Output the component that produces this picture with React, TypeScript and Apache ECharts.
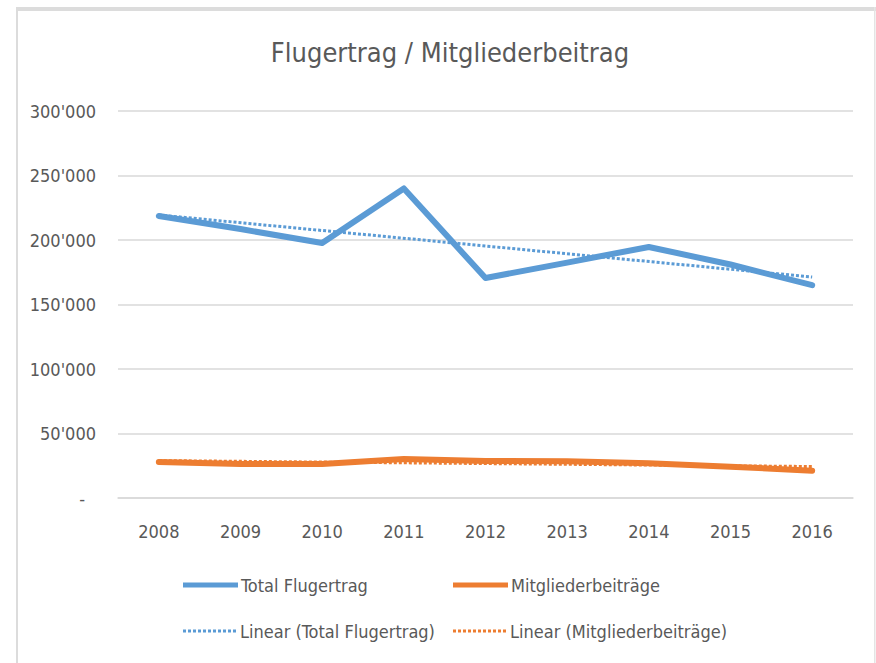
import React, { useEffect, useRef } from "react";
import * as echarts from "echarts";

const years = ["2008", "2009", "2010", "2011", "2012", "2013", "2014", "2015", "2016"];
const totalFlugertrag = [218600, 208500, 197700, 240000, 170500, 182500, 194600, 181000, 165000];
const mitgliederbeitraege = [27900, 26400, 26400, 30200, 28700, 28400, 26900, 24300, 21200];
// trend line endpoints (2008 and 2016)
const trendTotal = [219400, 171300];
const trendMitglieder = [29000, 24400];

const FONT = "'DejaVu Sans Condensed', sans-serif";
const GRAY = "#595959";
const BLUE = "#5B9BD5";
const ORANGE = "#ED7D31";

function dotted(n: number) {
  let d = "path://";
  for (let i = 0; i < n; i++) d += `M${i * 5},0h3v3h-3z`;
  return d;
}

export default function App() {
  const ref = useRef<HTMLDivElement>(null);
  useEffect(() => {
    document.body.style.margin = "0";
    const chart = echarts.init(ref.current!, null, { renderer: "svg" });
    const legendBase = {
      orient: "horizontal",
      itemWidth: 55,
      itemGap: 5,
      padding: 0,
      textStyle: { fontFamily: FONT, fontSize: 18, color: GRAY, padding: [0, 0, 0, -2] },
      selectedMode: false,
    };
    chart.setOption({
      animation: false,
      backgroundColor: "#ffffff",
      textStyle: { fontFamily: FONT },
      title: {
        text: "Flugertrag / Mitgliederbeitrag",
        left: 445,
        top: 34,
        textAlign: "center",
        textStyle: { fontFamily: FONT, fontSize: 27, fontWeight: "normal", color: GRAY },
      },
      graphic: [
        { type: "rect", shape: { x: 16, y: 7, width: 860, height: 4 }, style: { fill: "#dcdcdc" } },
        { type: "rect", shape: { x: 16, y: 7, width: 2, height: 656 }, style: { fill: "#dcdcdc" } },
        { type: "rect", shape: { x: 874, y: 7, width: 1.5, height: 656 }, style: { fill: "#e4e4e4" } },
      ],
      grid: { left: 118, right: 23, top: 111, bottom: 165, containLabel: false },
      xAxis: {
        type: "category",
        data: years,
        boundaryGap: true,
        axisLine: { show: true, lineStyle: { color: "#d9d9d9", width: 1.5 } },
        axisTick: { show: false },
        axisLabel: { fontFamily: FONT, fontSize: 18, color: GRAY, margin: 24 },
      },
      yAxis: {
        type: "value",
        min: 0,
        max: 300000,
        interval: 50000,
        axisLine: { show: false },
        axisTick: { show: false },
        splitLine: { lineStyle: { color: "#d9d9d9", width: 1.5 } },
        axisLabel: {
          fontFamily: FONT,
          fontSize: 18,
          color: GRAY,
          margin: 22,
          formatter: (v: number) => (v === 0 ? "{dash|-}" : `${v / 1000}'000`),
          rich: { dash: { fontFamily: FONT, fontSize: 18, color: GRAY, padding: [0, 11, 0, 0] } },
        },
      },
      legend: [
        { ...legendBase, left: 183, top: 576, itemHeight: 5, icon: "rect", data: ["Total Flugertrag"] },
        { ...legendBase, left: 453, top: 576, itemHeight: 5, icon: "rect", data: ["Mitgliederbeiträge"] },
        { ...legendBase, left: 183, top: 622, itemHeight: 3, icon: dotted(11), data: ["Linear (Total Flugertrag)"] },
        { ...legendBase, left: 453, top: 622, itemHeight: 3, icon: dotted(11), data: ["Linear (Mitgliederbeiträge)"] },
      ],
      series: [
        {
          name: "Linear (Total Flugertrag)",
          type: "line",
          symbol: "none",
          data: [[years[0], trendTotal[0]], [years[years.length - 1], trendTotal[1]]],
          lineStyle: { color: BLUE, width: 3, type: [3, 2], cap: "butt" },
          itemStyle: { color: BLUE },
          z: 3,
        },
        {
          name: "Linear (Mitgliederbeiträge)",
          type: "line",
          symbol: "none",
          data: [[years[0], trendMitglieder[0]], [years[years.length - 1], trendMitglieder[1]]],
          lineStyle: { color: ORANGE, width: 3, type: [3, 2], cap: "butt" },
          itemStyle: { color: ORANGE },
          z: 3,
        },
        {
          name: "Total Flugertrag",
          type: "line",
          symbol: "none",
          data: totalFlugertrag,
          lineStyle: { color: BLUE, width: 6, cap: "round", join: "round" },
          itemStyle: { color: BLUE },
          z: 2,
        },
        {
          name: "Mitgliederbeiträge",
          type: "line",
          symbol: "none",
          data: mitgliederbeitraege,
          lineStyle: { color: ORANGE, width: 6, cap: "round", join: "round" },
          itemStyle: { color: ORANGE },
          z: 2,
        },
      ],
    });
    return () => chart.dispose();
  }, []);
  return <div ref={ref} style={{ width: 876, height: 663 }} />;
}
